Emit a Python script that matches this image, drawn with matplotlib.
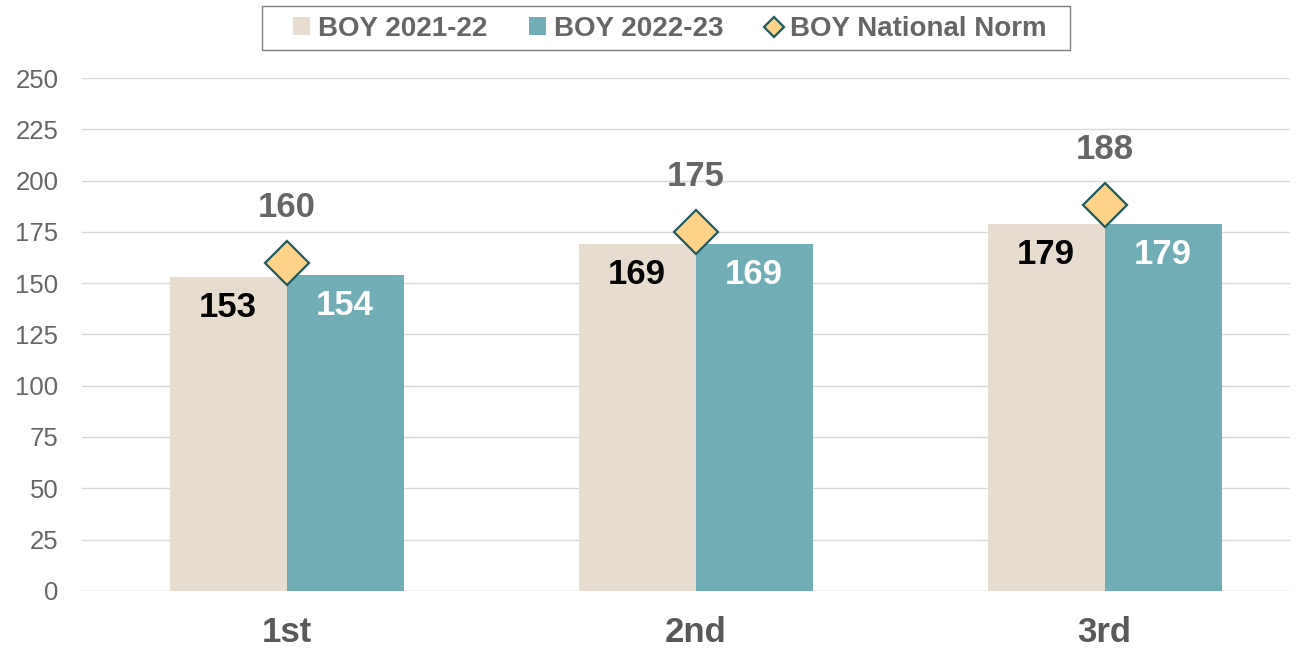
import numpy as np
import matplotlib.pyplot as plt
from matplotlib.lines import Line2D
from matplotlib.patches import Patch, Rectangle

plt.rcParams['font.family'] = ['Liberation Sans', 'DejaVu Sans']

# ---- data ----
grades = ["1st", "2nd", "3rd"]
boy_2122 = [153, 169, 179]
boy_2223 = [154, 169, 179]
national_norm = [160, 175, 188]
yticks = [0, 25, 50, 75, 100, 125, 150, 175, 200, 225, 250]

C_2122 = "#E6DDD0"
C_2223 = "#70ADB5"
C_NORM = "#FFD28A"
C_NORM_EDGE = "#1E5A5E"
GRAY = "#666666"

fig = plt.figure(figsize=(12.97, 6.5), dpi=100)
ax = fig.add_axes([82 / 1297, 0.091, 1208 / 1297, 0.789])

x = np.arange(len(grades))
w = 0.286

ax.bar(x - w / 2, boy_2122, w, color=C_2122, zorder=2)
ax.bar(x + w / 2, boy_2223, w, color=C_2223, zorder=2)
ax.plot(x, national_norm, linestyle="none", marker="D", markersize=22,
        markerfacecolor=C_NORM, markeredgecolor=C_NORM_EDGE, markeredgewidth=1.6, zorder=3)

# labels
for xi, v in zip(x, boy_2122):
    ax.text(xi - w / 2, v - 15, str(v), ha="center", va="center",
            fontsize=25, fontweight="bold", color="black", zorder=4)
for xi, v in zip(x, boy_2223):
    ax.text(xi + w / 2, v - 15, str(v), ha="center", va="center",
            fontsize=25, fontweight="bold", color="white", zorder=4)
for xi, v in zip(x, national_norm):
    ax.text(xi, v + 27, str(v), ha="center", va="center",
            fontsize=25, fontweight="bold", color=GRAY, zorder=4)

ax.set_ylim(0, 250)
ax.set_xlim(-0.5, 2.453)
ax.set_yticks(yticks)
ax.set_xticks(x)
ax.set_xticklabels(grades, fontsize=25, fontweight="bold", color="#595959")
ax.tick_params(axis="y", labelsize=18.5, colors=GRAY, length=0, pad=17)
ax.tick_params(axis="x", length=0, pad=18)
ax.grid(axis="y", color="#D9D9D9", linewidth=1, zorder=0)
for s in ax.spines.values():
    s.set_visible(False)
ax.axhline(0, color="#D9D9D9", linewidth=1, zorder=1)

# legend (frame drawn separately, it has wide side padding)
handles = [
    Patch(facecolor=C_2122, edgecolor="none", label="BOY 2021-22"),
    Patch(facecolor=C_2223, edgecolor="none", label="BOY 2022-23"),
    Line2D([], [], linestyle="none", marker="D", markersize=10, markerfacecolor=C_NORM,
           markeredgecolor=C_NORM_EDGE, markeredgewidth=1.6, label="BOY National Norm"),
]
leg = fig.legend(handles=handles, loc="center", bbox_to_anchor=(670 / 1297, 1 - 29 / 650),
                 ncol=3, frameon=False, prop={"size": 20, "weight": "bold"},
                 handlelength=0.6, handleheight=0.6, handletextpad=0.3,
                 columnspacing=1.5, borderpad=0, borderaxespad=0)
for t in leg.get_texts():
    t.set_color(GRAY)
fig.patches.append(Rectangle((262 / 1297, 1 - 50 / 650), 808 / 1297, 44 / 650,
                             transform=fig.transFigure, fill=False,
                             edgecolor="#7F7F7F", linewidth=1))

fig.savefig("out.png", dpi=100)
